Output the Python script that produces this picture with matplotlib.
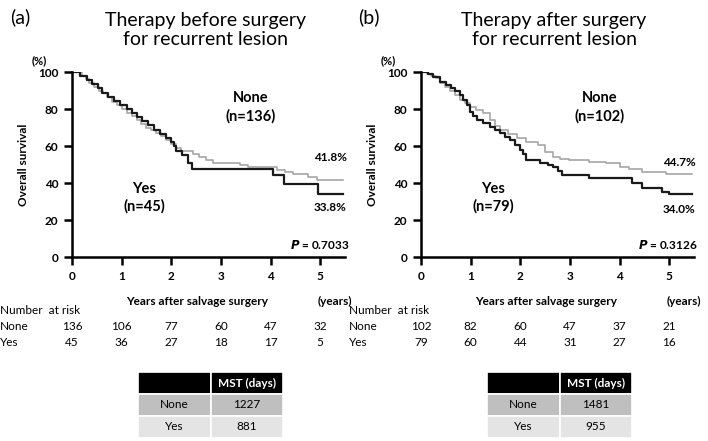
import matplotlib.pyplot as plt

plt.rcParams['font.family'] = ['Lato', 'DejaVu Sans']

# panel (a): therapy before surgery
a_yes_t = [0, 0.16, 0.3, 0.4, 0.52, 0.6, 0.73, 0.85, 0.97, 1.1, 1.2, 1.3, 1.42, 1.53, 1.65,
           1.77, 1.9, 2.0, 2.05, 2.1, 2.22, 2.34, 2.41, 4.05, 4.27, 4.96, 5.46]
a_yes_s = [100, 97.8, 95.6, 93.3, 91.1, 88.9, 86.7, 84.4, 82.2, 80, 77.8, 75.6, 73.3, 71.1, 68.9,
           66.7, 64.4, 62.2, 60, 57.5, 55, 51, 47.5, 44.5, 39.6, 33.8, 33.8]
a_none_t = [0, 0.2, 0.28, 0.35, 0.45, 0.55, 0.62, 0.7, 0.8, 0.9, 1.0, 1.1, 1.2, 1.3, 1.4, 1.5,
            1.6, 1.7, 1.8, 1.9, 2.0, 2.1, 2.2, 2.44, 2.55, 2.7, 2.85, 3.39, 3.55, 4.13, 4.3,
            4.46, 4.75, 4.94, 5.46]
a_none_s = [100, 98, 96, 94, 92, 90, 88.5, 86.5, 84, 82, 80, 78, 76, 74, 72, 70,
            68.5, 67, 65.5, 63.5, 61, 59, 57.5, 55.5, 54, 52.5, 50.8, 49.5, 48.4, 47, 46,
            45, 43.5, 41.8, 41.8]

# panel (b): therapy after surgery
b_yes_t = [0, 0.14, 0.25, 0.38, 0.5, 0.6, 0.68, 0.78, 0.85, 0.92, 0.98, 1.05, 1.12, 1.25, 1.39,
           1.5, 1.59, 1.7, 1.79, 1.9, 1.99, 2.06, 2.12, 2.39, 2.55, 2.65, 2.75, 2.85, 3.39,
           4.26, 4.46, 4.86, 5.0, 5.46]
b_yes_s = [100, 98.7, 97.5, 94.8, 93, 91.5, 90, 87.6, 85, 82, 78.5, 76, 74, 72.2, 70.4,
           68.5, 67, 65, 63, 60.8, 57.8, 55.5, 52.5, 51, 49.9, 48.6, 46.5, 44.3, 42.7,
           40, 37.3, 35, 34.0, 34.0]
b_none_t = [0, 0.12, 0.2, 0.3, 0.38, 0.48, 0.58, 0.68, 0.78, 0.88, 0.98, 1.1, 1.25, 1.39, 1.5,
            1.59, 1.75, 1.93, 2.12, 2.35, 2.5, 2.65, 2.8, 2.99, 3.39, 3.73, 4.0, 4.2, 4.46,
            4.94, 5.46]
b_none_s = [100, 99, 98, 97, 94, 92, 90, 87.5, 85, 83, 81, 79.5, 77.8, 74, 71,
            68.6, 66.5, 64.3, 62.3, 60.5, 57, 54, 53, 52.5, 51.5, 50.6, 48.6, 47.5, 46,
            44.7, 44.7]

years = [0, 1, 2, 3, 4, 5]
a_risk_none = [136, 106, 77, 60, 47, 32]
a_risk_yes = [45, 36, 27, 18, 17, 5]
b_risk_none = [102, 82, 60, 47, 37, 21]
b_risk_yes = [79, 60, 44, 31, 27, 16]

a_mst = [1227, 881]
b_mst = [1481, 955]

fig = plt.figure(figsize=(7.08, 4.41), dpi=100)


def panel(left, letter, title, yes_t, yes_s, none_t, none_s, n_none, n_yes,
          pct_none, pct_yes, pval, risk_none, risk_yes, mst):
    ax = fig.add_axes([left / 708, 1 - 257 / 441, 273 / 708, 185 / 441])
    ax.step(none_t, none_s, where='post', color='#a6a6a6', lw=1.2)
    ax.step(yes_t, yes_s, where='post', color='#1a1a1a', lw=1.6)
    ax.set_xlim(0, 5.5)
    ax.set_ylim(0, 100)
    ax.set_xticks(years)
    ax.set_yticks([0, 20, 40, 60, 80, 100])
    for s in ['top', 'right']:
        ax.spines[s].set_visible(False)
    for s in ['left', 'bottom']:
        ax.spines[s].set_linewidth(1.8)
    ax.tick_params(width=1.8, length=6, labelsize=8.5, pad=4)
    for lab in ax.get_xticklabels() + ax.get_yticklabels():
        lab.set_fontweight('bold')
    ax.set_ylabel('Overall survival', fontsize=8.5, fontweight='bold', labelpad=6)
    ax.text(-0.12, 1.06, '(%)', transform=ax.transAxes, fontsize=8, fontweight='bold',
            ha='center', va='center')

    ax.text(3.6, 86, 'None', fontsize=10.5, fontweight='bold', ha='center', va='center')
    ax.text(3.6, 76, '(n=%d)' % n_none, fontsize=10.5, fontweight='bold', ha='center', va='center')
    ax.text(1.45, 37, 'Yes', fontsize=10.5, fontweight='bold', ha='center', va='center')
    ax.text(1.45, 27.5, '(n=%d)' % n_yes, fontsize=10.5, fontweight='bold', ha='center', va='center')
    ax.text(5.2, pct_none[1], pct_none[0], fontsize=8.5, fontweight='bold', ha='center', va='center')
    ax.text(5.2, pct_yes[1], pct_yes[0], fontsize=8.5, fontweight='bold', ha='center', va='center')
    ax.text(5.58, 7, r'$\bfit{P}$' + ' = ' + pval, fontsize=8.5, fontweight='bold',
            ha='right', va='center')

    ax.annotate('Years after salvage surgery', (2.52, 0), xycoords='data', xytext=(0, -32),
                textcoords='offset points', fontsize=8.5, fontweight='bold', ha='center',
                va='center')
    ax.annotate('(years)', (5.3, 0), xycoords='data', xytext=(0, -32),
                textcoords='offset points', fontsize=8.5, fontweight='bold', ha='center',
                va='center')

    # number at risk
    fig.text((left - 72) / 708, 1 - 311 / 441, 'Number  at risk', fontsize=8.5, va='center')
    fig.text((left - 72) / 708, 1 - 327 / 441, 'None', fontsize=8.5, va='center')
    fig.text((left - 72) / 708, 1 - 343 / 441, 'Yes', fontsize=8.5, va='center')
    for x, n1, n2 in zip(years, risk_none, risk_yes):
        ax.annotate(str(n1), (x, 0), xycoords='data', xytext=(0, -70 * 0.72),
                    textcoords='offset points', fontsize=8.5, ha='center', va='center',
                    annotation_clip=False)
        ax.annotate(str(n2), (x, 0), xycoords='data', xytext=(0, -86 * 0.72),
                    textcoords='offset points', fontsize=8.5, ha='center', va='center',
                    annotation_clip=False)

    # title
    fig.text((left + 133) / 708, 1 - 30 / 441, title, fontsize=14, ha='center', va='center',
             linespacing=1.2)
    fig.text((left - 52) / 708, 1 - 17 / 441, letter, fontsize=14, ha='center', va='center')

    # MST table
    tab_ax = fig.add_axes([(left + 66) / 708, 1 - 438 / 441, 145 / 708, 66 / 441])
    tab_ax.axis('off')
    cells = [['', 'MST (days)'], ['None', str(mst[0])], ['Yes', str(mst[1])]]
    colors = [['black', 'black'], ['#bfbfbf', '#bfbfbf'], ['#e4e4e4', '#e4e4e4']]
    tb = tab_ax.table(cellText=cells, cellColours=colors, cellLoc='center',
                      bbox=[0, 0, 1, 1], colWidths=[0.5, 0.5])
    tb.auto_set_font_size(False)
    for (r, c), cell in tb.get_celld().items():
        cell.set_edgecolor('white')
        cell.set_linewidth(1.2)
        cell.get_text().set_fontsize(8.5)
        if r == 0:
            cell.get_text().set_color('white')
            cell.get_text().set_fontweight('bold')
    return ax


panel(72, '(a)', 'Therapy before surgery\nfor recurrent lesion', a_yes_t, a_yes_s, a_none_t,
      a_none_s, 136, 45, ('41.8%', 54), ('33.8%', 26.5), '0.7033', a_risk_none, a_risk_yes, a_mst)
panel(421, '(b)', 'Therapy after surgery\nfor recurrent lesion', b_yes_t, b_yes_s, b_none_t,
      b_none_s, 102, 79, ('44.7%', 51), ('34.0%', 25.5), '0.3126', b_risk_none, b_risk_yes, b_mst)

fig.savefig('out.png', dpi=100)
